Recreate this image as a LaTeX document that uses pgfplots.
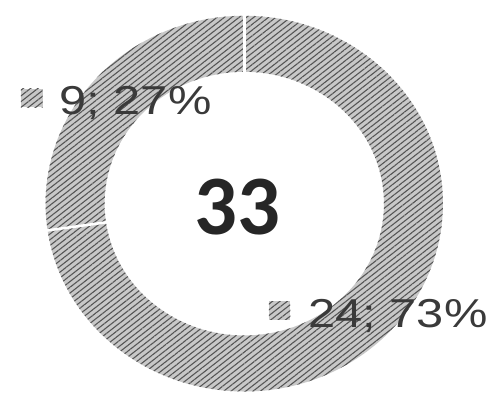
\documentclass[border=0pt]{standalone}
\usepackage{pgfplots}
\pgfplotsset{compat=1.18}
\usepackage{pgfplotstable}
\usetikzlibrary{patterns.meta}
\usepackage{fontspec}
\setmainfont{Liberation Sans}
\newfontfamily\carlito{Carlito}

\definecolor{ringbg}{HTML}{C8C8C8}
\definecolor{ringln}{HTML}{555555}
\definecolor{lbl}{HTML}{3A3A3A}

\tikzset{
  hatched/.style={fill=ringbg, postaction={pattern={Lines[angle=38, distance=4.6bp, line width=1.1bp]}, pattern color=ringln}},
}

% ring segment between two angles (canvas degrees)
\newcommand\seg[2]{%
  \path[hatched] ([shift={(#1:202bp and 191bp)}]axis cs:240,207)
    arc[start angle=#1, end angle=#2, x radius=202bp, y radius=191bp]
    -- ([shift={(#2:142bp and 134bp)}]axis cs:240,207)
    arc[start angle=#2, end angle=#1, x radius=142bp, y radius=134bp] -- cycle;}
\newcommand\sep[1]{%
  \draw[white, line width=2.6bp] ([shift={(#1:139bp and 131bp)}]axis cs:240,207)
    -- ([shift={(#1:205bp and 194bp)}]axis cs:240,207);}

\begin{document}
\pgfplotstableread{
value
24
9
}\slices
\pgfplotstablegetelem{0}{value}\of\slices \let\va\pgfplotsretval
\pgfplotstablegetelem{1}{value}\of\slices \let\vb\pgfplotsretval
\pgfmathsetmacro\total{\va+\vb}
\pgfmathsetmacro\angA{90-360*\va/\total}
\pgfmathsetmacro\angB{\angA-360*\vb/\total}
\begin{tikzpicture}
\useasboundingbox (0,0) rectangle (501bp,406bp);
\begin{axis}[
  hide axis, scale only axis, clip=false,
  width=501bp, height=406bp,
  xmin=0, xmax=501, ymin=0, ymax=406, y dir=reverse,
]
\seg{90}{\angA}
\seg{\angA}{\angB}
\sep{90}
\sep{\angA}

% legend keys
\path[hatched] (axis cs:13,90) rectangle (axis cs:35,109);
\path[hatched] (axis cs:265,306) rectangle (axis cs:287,325);

\node[anchor=base west, inner sep=0pt, text=lbl, font=\fontsize{41bp}{41bp}\selectfont, xscale=1.21]
  at (axis cs:52,116) {9; 27\%};
\node[anchor=base west, inner sep=0pt, text=lbl, font=\fontsize{41bp}{41bp}\selectfont, xscale=1.21]
  at (axis cs:305,333) {24; 73\%};
\node[inner sep=0pt, text=black!85, font=\carlito\bfseries\fontsize{86bp}{86bp}\selectfont]
  at (axis cs:233,210) {33};
\end{axis}
\end{tikzpicture}
\end{document}
